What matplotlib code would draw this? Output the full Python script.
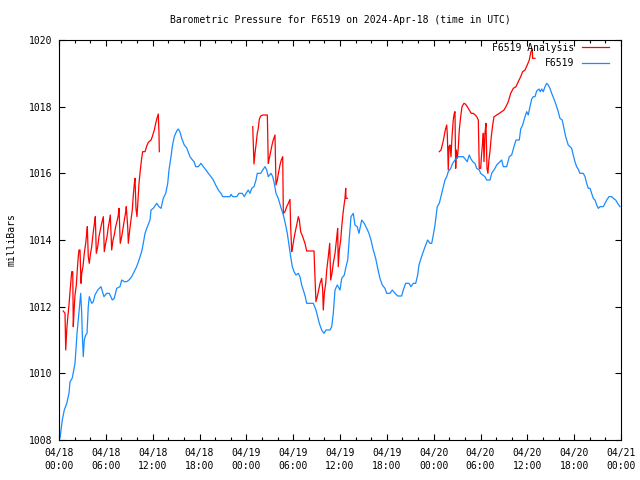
import matplotlib
matplotlib.use('Agg')
import matplotlib.pyplot as plt
import numpy as np

# hours since 2024-04-18 00:00 UTC, pressure in mbar
station_h = [0.13, 0.42, 0.68, 0.99, 1.28, 1.41, 1.70, 2.05, 2.31, 2.47, 2.60, 2.78, 2.91, 2.98,
             3.11, 3.24, 3.42, 3.59, 3.75, 3.88, 4.19, 4.39, 4.61, 4.96, 5.38, 5.76, 6.11, 6.44,
             6.83, 7.08, 7.39, 7.81, 8.03, 8.37, 8.67, 8.97, 9.31, 9.74, 9.95, 10.25, 10.59, 10.80,
             11.02, 11.24, 11.66, 11.79, 12.08, 12.52, 12.81, 13.07, 13.36, 13.67, 13.93, 14.09,
             14.35, 14.51, 14.77, 15.08, 15.28, 15.50, 15.72, 16.05, 16.36, 16.56, 16.78, 17.00,
             17.33, 17.51, 17.85, 18.19, 18.49, 18.83, 19.13, 19.47, 19.77, 20.07, 20.41, 20.75,
             20.97, 21.48, 21.91, 22.04, 22.25, 22.77, 23.06, 23.48, 23.74, 23.96, 24.25, 24.47,
             24.69, 24.98, 25.24, 25.40, 25.84, 26.10, 26.39, 26.61, 26.81, 27.16, 27.38, 27.58,
             27.80, 28.09, 28.40, 28.74, 28.99, 29.25, 29.50, 29.68, 29.89, 30.11, 30.36, 30.66,
             30.87, 31.09, 31.30, 31.55, 31.73, 32.25, 32.58, 32.92, 33.14, 33.35, 33.65, 33.95,
             34.20, 34.72, 34.94, 35.14, 35.36, 35.65, 36.00, 36.22, 36.55, 36.77, 36.99, 37.19,
             37.41, 37.70, 37.92, 38.21, 38.43, 38.78, 39.11, 39.42, 39.71, 39.97, 40.26, 40.57,
             40.83, 41.12, 41.42, 41.76, 41.98, 42.40, 42.70, 43.04, 43.39, 43.90, 44.11, 44.41,
             44.84, 45.09, 45.39, 45.70, 45.95, 46.12, 46.38, 46.67, 46.98, 47.23, 47.53, 47.75,
             47.95, 48.17, 48.46, 48.72, 49.03, 49.23, 49.45, 49.67, 49.87, 50.18, 50.44, 50.73,
             51.15, 51.79, 52.14, 52.30, 52.56, 52.74, 53.00, 53.29, 53.51, 53.84, 54.02, 54.28,
             54.57, 54.79, 55.22, 55.43, 55.86, 56.07, 56.50, 56.71, 56.92, 57.35, 57.69, 57.99,
             58.29, 58.55, 58.97, 59.15, 59.40, 59.70, 59.92, 60.12, 60.34, 60.56, 60.76, 60.98,
             61.20, 61.49, 61.66, 61.84, 62.04, 62.26, 62.48, 62.68, 62.90, 63.12, 63.32, 63.54,
             63.76, 63.96, 64.18, 64.47, 64.60, 64.73, 64.91, 65.04, 65.24, 65.46, 65.68, 65.88,
             66.10, 66.32, 66.53, 66.74, 67.17, 67.39, 67.60, 67.81, 68.03, 68.24, 68.45, 68.67,
             68.89, 69.09, 69.31, 69.73, 69.95, 70.17, 70.46, 70.81, 71.01, 71.32, 71.57, 71.87]
station_p = [1008.06, 1008.6, 1008.9, 1009.1, 1009.4, 1009.74, 1009.86, 1010.3, 1011.2, 1011.6,
             1011.9, 1012.4, 1011.8, 1011.2, 1010.5, 1011.0, 1011.15, 1011.2, 1012.0, 1012.3,
             1012.1, 1012.15, 1012.35, 1012.5, 1012.6, 1012.3, 1012.4, 1012.4, 1012.2, 1012.25,
             1012.55, 1012.6, 1012.8, 1012.75, 1012.75, 1012.8, 1012.9, 1013.1, 1013.2, 1013.4,
             1013.65, 1013.9, 1014.2, 1014.35, 1014.6, 1014.9, 1014.95, 1015.1, 1015.0, 1014.95,
             1015.25, 1015.4, 1015.7, 1016.1, 1016.5, 1016.8, 1017.1, 1017.27, 1017.33, 1017.24,
             1017.05, 1016.85, 1016.76, 1016.64, 1016.5, 1016.43, 1016.34, 1016.2, 1016.2, 1016.3,
             1016.2, 1016.1, 1016.0, 1015.9, 1015.8, 1015.65, 1015.5, 1015.4, 1015.3, 1015.3,
             1015.3, 1015.37, 1015.3, 1015.3, 1015.4, 1015.4, 1015.3, 1015.4, 1015.5, 1015.4,
             1015.55, 1015.6, 1015.8, 1016.0, 1016.0, 1016.1, 1016.2, 1016.1, 1015.9, 1016.0,
             1015.9, 1015.7, 1015.4, 1015.25, 1015.0, 1014.75, 1014.5, 1014.2, 1013.8, 1013.5,
             1013.2, 1013.05, 1012.95, 1013.0, 1012.9, 1012.65, 1012.5, 1012.3, 1012.1, 1012.1,
             1012.1, 1011.9, 1011.7, 1011.5, 1011.3, 1011.2, 1011.3, 1011.3, 1011.4, 1011.8,
             1012.5, 1012.65, 1012.5, 1012.85, 1012.95, 1013.2, 1013.4, 1014.05, 1014.7, 1014.8,
             1014.45, 1014.4, 1014.2, 1014.6, 1014.5, 1014.35, 1014.2, 1014.0, 1013.7, 1013.45,
             1013.15, 1012.85, 1012.65, 1012.55, 1012.4, 1012.4, 1012.5, 1012.4, 1012.32, 1012.32,
             1012.5, 1012.7, 1012.7, 1012.6, 1012.7, 1012.7, 1012.95, 1013.25, 1013.45, 1013.65,
             1013.85, 1014.0, 1013.9, 1013.9, 1014.15, 1014.45, 1015.0, 1015.1, 1015.4, 1015.6,
             1015.8, 1015.9, 1016.05, 1016.15, 1016.3, 1016.4, 1016.5, 1016.5, 1016.4, 1016.35,
             1016.55, 1016.45, 1016.35, 1016.3, 1016.15, 1016.1, 1016.0, 1015.95, 1015.9, 1015.8,
             1015.8, 1016.0, 1016.15, 1016.25, 1016.35, 1016.4, 1016.2, 1016.2, 1016.5, 1016.55,
             1016.8, 1017.0, 1017.0, 1017.33, 1017.45, 1017.7, 1017.85, 1017.75, 1018.0, 1018.23,
             1018.3, 1018.3, 1018.47, 1018.53, 1018.45, 1018.53, 1018.45, 1018.6, 1018.7, 1018.65,
             1018.55, 1018.4, 1018.28, 1018.15, 1018.0, 1017.85, 1017.65, 1017.6, 1017.45, 1017.3,
             1017.1, 1017.0, 1016.85, 1016.8, 1016.75, 1016.55, 1016.35, 1016.2, 1016.12, 1016.0,
             1016.0, 1015.9, 1015.7, 1015.55, 1015.55, 1015.4, 1015.25, 1015.2, 1015.05, 1014.95,
             1015.0, 1015.0, 1015.1, 1015.2, 1015.3, 1015.3, 1015.25, 1015.2, 1015.1, 1015.0]

# analysis comes in three runs with gaps between them
analysis1_h = [0.55, 0.77, 0.86, 0.99, 1.11, 1.28, 1.41, 1.54, 1.63, 1.76, 1.83, 1.96, 2.05, 2.22,
               2.34, 2.47, 2.56, 2.69, 2.82, 2.91, 3.07, 3.24, 3.42, 3.55, 3.63, 3.75, 3.88, 4.01,
               4.19, 4.32, 4.45, 4.57, 4.65, 4.78, 4.96, 5.12, 5.29, 5.47, 5.68, 5.80, 5.98, 6.15,
               6.32, 6.44, 6.57, 6.75, 6.92, 7.08, 7.26, 7.47, 7.60, 7.69, 7.85, 8.03, 8.20, 8.37,
               8.55, 8.62, 8.80, 8.88, 9.06, 9.22, 9.39, 9.52, 9.65, 9.74, 9.86, 9.99, 10.12, 10.25,
               10.42, 10.59, 10.72, 11.02, 11.24, 11.44, 11.79, 11.95, 12.21, 12.39, 12.55, 12.72,
               12.81, 12.85]
analysis1_p = [1011.87, 1011.8, 1010.7, 1011.3, 1011.65, 1012.05, 1012.45, 1012.8, 1013.05, 1013.05,
               1011.4, 1012.0, 1012.35, 1012.65, 1013.1, 1013.5, 1013.7, 1013.7, 1012.7, 1013.0,
               1013.2, 1013.6, 1013.9, 1014.2, 1014.4, 1013.5, 1013.3, 1013.55, 1013.8, 1014.1,
               1014.35, 1014.55, 1014.7, 1013.6, 1013.8, 1014.1, 1014.3, 1014.5, 1014.7, 1013.65,
               1013.9, 1014.1, 1014.4, 1014.55, 1014.75, 1013.7, 1014.0, 1014.15, 1014.4, 1014.6,
               1014.75, 1014.95, 1013.9, 1014.1, 1014.35, 1014.6, 1014.85, 1015.0, 1014.4, 1013.9,
               1014.3, 1014.6, 1014.9, 1015.35, 1015.7, 1015.85, 1014.95, 1014.7, 1015.2, 1015.7,
               1016.1, 1016.45, 1016.65, 1016.65, 1016.82, 1016.93, 1017.0, 1017.1, 1017.3, 1017.5,
               1017.65, 1017.78, 1017.2, 1016.65]
analysis2_h = [24.82, 24.89, 24.98, 25.11, 25.24, 25.40, 25.53, 25.66, 25.84, 26.10, 26.69, 26.81,
               26.94, 27.12, 27.29, 27.45, 27.67, 27.80, 27.97, 28.15, 28.31, 28.48, 28.66, 28.74,
               28.95, 29.17, 29.38, 29.59, 29.68, 29.81, 29.94, 30.11, 30.27, 30.45, 30.66, 30.79,
               30.96, 31.22, 31.51, 31.73, 32.67, 32.79, 32.92, 33.09, 33.27, 33.44, 33.65, 33.78,
               33.86, 33.99, 34.17, 34.30, 34.50, 34.68, 34.81, 34.97, 35.14, 35.36, 35.57, 35.70,
               35.78, 35.91, 36.09, 36.22, 36.39, 36.52, 36.64, 36.73, 36.77, 36.93]
analysis2_p = [1017.4, 1016.9, 1016.28, 1016.6, 1016.85, 1017.2, 1017.35, 1017.62, 1017.72, 1017.75,
               1017.75, 1016.3, 1016.45, 1016.65, 1016.85, 1017.0, 1017.15, 1015.65, 1015.8, 1016.05,
               1016.25, 1016.4, 1016.5, 1014.8, 1014.85, 1015.0, 1015.1, 1015.22, 1014.4, 1013.65,
               1013.8, 1014.05, 1014.25, 1014.45, 1014.7, 1014.6, 1014.25, 1014.1, 1013.9, 1013.67,
               1013.67, 1012.9, 1012.15, 1012.3, 1012.5, 1012.7, 1012.85, 1012.5, 1011.9, 1012.4,
               1012.7, 1013.1, 1013.5, 1013.9, 1012.8, 1013.0, 1013.3, 1013.6, 1014.05, 1014.35,
               1013.2, 1013.7, 1014.0, 1014.4, 1014.8, 1015.05, 1015.25, 1015.55, 1015.25, 1015.25]
analysis3_h = [48.72, 48.94, 49.16, 49.33, 49.49, 49.67, 49.75, 49.87, 49.96, 50.09, 50.22, 50.35,
               50.51, 50.64, 50.73, 50.82, 50.90, 51.03, 51.15, 51.28, 51.46, 51.63, 51.88, 52.05,
               52.31, 52.56, 52.82, 53.07, 53.33, 53.51, 53.72, 53.84, 54.02, 54.15, 54.28, 54.36,
               54.45, 54.57, 54.70, 54.83, 54.95, 55.08, 55.21, 55.38, 55.56, 55.73, 55.90, 56.07,
               56.41, 56.71, 57.01, 57.26, 57.56, 57.87, 58.20, 58.55, 58.84, 59.15, 59.40, 59.70,
               59.99, 60.25, 60.46, 60.63, 60.68, 60.98]
analysis3_p = [1016.65, 1016.7, 1016.9, 1017.1, 1017.3, 1017.45, 1017.15, 1016.1, 1016.8, 1016.85,
               1016.5, 1017.1, 1017.6, 1017.8, 1017.85, 1016.15, 1016.7, 1016.45, 1016.75, 1017.3,
               1017.7, 1018.0, 1018.1, 1018.08, 1018.0, 1017.9, 1017.8, 1017.8, 1017.75, 1017.7,
               1017.6, 1016.15, 1016.15, 1016.6, 1016.95, 1017.2, 1016.35, 1017.2, 1017.5, 1016.15,
               1016.0, 1016.4, 1016.65, 1017.1, 1017.45, 1017.7, 1017.72, 1017.75, 1017.8, 1017.85,
               1017.9, 1018.0, 1018.15, 1018.4, 1018.55, 1018.6, 1018.75, 1018.9, 1019.05, 1019.1,
               1019.25, 1019.4, 1019.65, 1019.73, 1019.45, 1019.45]

xtick_hours = list(range(0, 73, 6))
xtick_labels = ['04/18\n00:00', '04/18\n06:00', '04/18\n12:00', '04/18\n18:00',
                '04/19\n00:00', '04/19\n06:00', '04/19\n12:00', '04/19\n18:00',
                '04/20\n00:00', '04/20\n06:00', '04/20\n12:00', '04/20\n18:00',
                '04/21\n00:00']
ytick_values = [1008, 1010, 1012, 1014, 1016, 1018, 1020]

RED = '#ff0000'
BLUE = '#1a8cff'

plt.rcParams['font.family'] = 'DejaVu Sans Mono'
plt.rcParams['font.size'] = 7

fig = plt.figure(figsize=(6.4, 4.8), dpi=100)
ax = fig.add_axes([59/640, 40/480, 562/640, 400/480])

# red runs first so the legend order matches
ax.plot(analysis1_h, analysis1_p, color=RED, lw=0.9, label='F6519 Analysis')
ax.plot(analysis2_h, analysis2_p, color=RED, lw=0.9)
ax.plot(analysis3_h, analysis3_p, color=RED, lw=0.9)
ax.plot(station_h, station_p, color=BLUE, lw=0.9, label='F6519')

ax.set_xlim(0, 72)
ax.set_ylim(1008, 1020)
ax.set_xticks(xtick_hours)
ax.set_xticklabels(xtick_labels, linespacing=1.3)
ax.set_xticks(np.arange(0, 73, 2), minor=True)
ax.set_yticks(ytick_values)
ax.set_yticklabels([str(v) for v in ytick_values])

ax.tick_params(which='both', direction='in', top=True, right=True, color='black', labelsize=7)
ax.tick_params(which='major', length=4, width=0.8)
ax.tick_params(which='minor', length=2, width=0.8)
ax.tick_params(axis='x', pad=6)
ax.tick_params(axis='y', pad=5)
for s in ax.spines.values():
    s.set_linewidth(0.8)

ax.set_title('Barometric Pressure for F6519 on 2024-Apr-18 (time in UTC)', fontsize=7, pad=12)
ax.set_ylabel('milliBars', fontsize=7, labelpad=9)

# key sits just inside the top right corner, text right aligned
ax.legend(loc='upper right', bbox_to_anchor=(0.979, 0.993), frameon=False, markerfirst=False,
          fontsize=7, handlelength=2.8, handletextpad=0.8, labelspacing=0.55,
          borderaxespad=0.0, borderpad=0.0)

fig.savefig('out.png', dpi=100)
